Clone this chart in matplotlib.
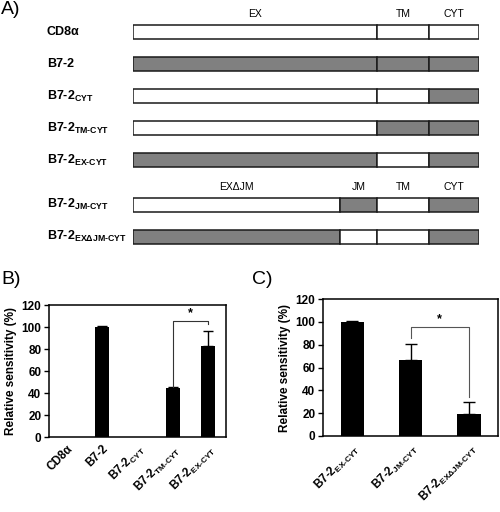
import numpy as np
import matplotlib
matplotlib.use("Agg")
import matplotlib.pyplot as plt

plt.rcParams["font.family"] = ["Liberation Sans", "DejaVu Sans"]
plt.rcParams["mathtext.fontset"] = "custom"
plt.rcParams["mathtext.rm"] = "Liberation Sans:bold"
plt.rcParams["mathtext.bf"] = "Liberation Sans:bold"
plt.rcParams["mathtext.it"] = "Liberation Sans:bold"

# ---- panel A: construct layout ----
construct_names = [
    "CD8α",
    "B7-2",
    "B7-2$_{\\mathrm{CYT}}$",
    "B7-2$_{\\mathrm{TM\\text{-}CYT}}$",
    "B7-2$_{\\mathrm{EX\\text{-}CYT}}$",
    "B7-2$_{\\mathrm{JM\\text{-}CYT}}$",
    "B7-2$_{\\mathrm{EXΔJM\\text{-}CYT}}$",
]
# domain lengths (relative units)
domains_top = ["EX", "TM", "CYT"]
lengths_top = [244, 52, 50]
domains_bot = ["EXΔJM", "JM", "TM", "CYT"]
lengths_bot = [207, 37, 52, 50]
# 1 = B7-2 derived (grey), 0 = CD8α derived (white)
origin = [
    [0, 0, 0],
    [1, 1, 1],
    [0, 0, 1],
    [0, 1, 1],
    [1, 0, 1],
    [0, 1, 0, 1],
    [1, 0, 0, 1],
]
row_pos = [0, 1, 2, 3, 4, 5.4, 6.4]

# ---- panel B ----
b_labels = [
    "CD8α",
    "B7-2",
    "B7-2$_{\\mathrm{CYT}}$",
    "B7-2$_{\\mathrm{TM\\text{-}CYT}}$",
    "B7-2$_{\\mathrm{EX\\text{-}CYT}}$",
]
b_values = [0, 100, 0, 45, 83]
b_err = [0, 0.5, 0, 0.5, 13]

# ---- panel C ----
c_labels = [
    "B7-2$_{\\mathrm{EX\\text{-}CYT}}$",
    "B7-2$_{\\mathrm{JM\\text{-}CYT}}$",
    "B7-2$_{\\mathrm{EXΔJM\\text{-}CYT}}$",
]
c_values = [100, 66.5, 19]
c_err = [0.3, 14, 11]

GREY = "#808080"
EDGE = "#1a1a1a"

fig = plt.figure(figsize=(5.0, 5.12), dpi=100)

# ---------- A ----------
axA = fig.add_axes([133 / 500, 1 - 260 / 512, 346 / 500, 260 / 512])
for i, (row, y) in enumerate(zip(origin, row_pos)):
    lens = lengths_top if len(row) == 3 else lengths_bot
    left = 0
    for flag, w in zip(row, lens):
        axA.barh(y, w, left=left, height=0.44, color=GREY if flag else "white",
                 edgecolor=EDGE, linewidth=1.1)
        left += w
    axA.text(-0.249, y, construct_names[i], transform=axA.get_yaxis_transform(),
             ha="left", va="center", fontsize=9, fontweight="bold")

for names, lens, y in [(domains_top, lengths_top, -0.55), (domains_bot, lengths_bot, 4.85)]:
    starts = np.concatenate([[0], np.cumsum(lens)[:-1]])
    for name, s, w in zip(names, starts, lens):
        axA.text(s + w / 2, y, name, ha="center", va="center", fontsize=7.5)

axA.set_xlim(0, sum(lengths_top))
axA.set_ylim(7.125, -1)
axA.axis("off")


def bracket(ax, x0, x1, top, foot0, foot1, color):
    ax.plot([x0, x0, x1, x1], [foot0, top, top, foot1], color=color, lw=0.8)
    ax.text((x0 + x1) / 2, top + 1.5, "*", ha="center", va="bottom", fontsize=9,
            fontweight="bold")


def upper_err(values, err):
    # only measured constructs carry an (upper) error bar
    has = np.asarray(values) > 0
    up = np.where(has, err, np.nan)
    low = np.where(has, 0.0, np.nan)
    return [low, up]


def style_bar_axes(ax, labels):
    ax.set_ylim(0, 120)
    ax.set_yticks(range(0, 121, 20))
    ax.set_xlim(-0.5, len(labels) - 0.5)
    ax.set_xticks(range(len(labels)))
    ax.set_xticklabels(labels, rotation=45, ha="right", va="top",
                       rotation_mode="anchor", fontsize=8.5, fontweight="bold")
    ax.tick_params(axis="x", length=0, pad=4)
    ax.tick_params(axis="y", length=3.5, width=1, labelsize=8.5, pad=2)
    for lab in ax.get_yticklabels():
        lab.set_fontweight("bold")
    for sp in ax.spines.values():
        sp.set_linewidth(1.1)
    ax.set_ylabel("Relative sensitivity (%)", fontsize=8.5, fontweight="bold",
                  labelpad=3)


# ---------- B ----------
axB = fig.add_axes([49 / 500, 1 - 437 / 512, 177 / 500, 132 / 512])
xb = np.arange(len(b_labels))
axB.bar(xb, b_values, width=0.4, color="black", linewidth=0,
        yerr=upper_err(b_values, b_err), capsize=3.5,
        error_kw=dict(elinewidth=1, capthick=1, ecolor="black"))
style_bar_axes(axB, b_labels)
bracket(axB, 3, 4, 105.5, 45.5, 103, "#333333")

# ---------- C ----------
axC = fig.add_axes([323 / 500, 1 - 436 / 512, 175 / 500, 137 / 512])
xc = np.arange(len(c_labels))
axC.bar(xc, c_values, width=0.4, color="black", linewidth=0,
        yerr=upper_err(c_values, c_err), capsize=4,
        error_kw=dict(elinewidth=1, capthick=1, ecolor="black"))
style_bar_axes(axC, c_labels)
bracket(axC, 1, 2, 95.3, 86, 34.5, "#555555")

# panel letters
fig.text(0.002, 1 - 10 / 512, "A)", fontsize=14, ha="left", va="center")
fig.text(0.002, 1 - 280 / 512, "B)", fontsize=14, ha="left", va="center")
fig.text(252 / 500, 1 - 280 / 512, "C)", fontsize=14, ha="left", va="center")

fig.savefig("out.png", dpi=100)
